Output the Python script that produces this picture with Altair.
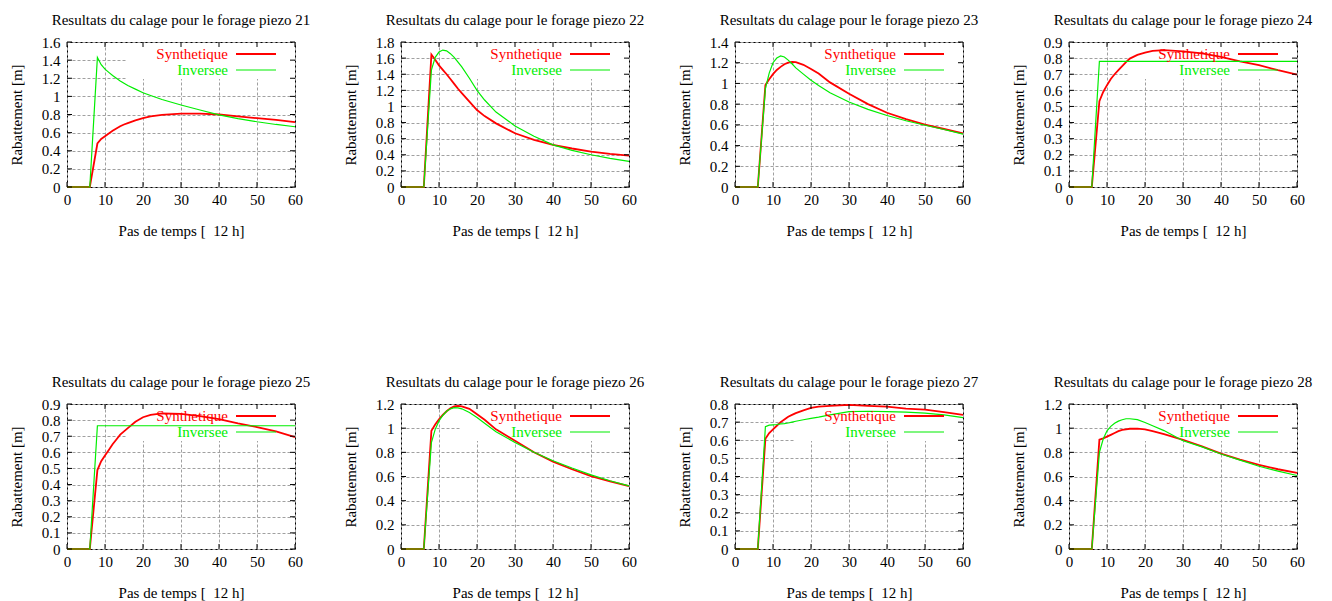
import altair as alt
import pandas as pd

# ---------------- data ----------------
STEPS = [0, 6, 8, 9, 10, 11, 12, 13, 14, 15, 16, 18, 20, 22, 25, 30, 35, 40, 45, 50, 55, 60]

PIEZOS = [21, 22, 23, 24, 25, 26, 27, 28]

SYNTH_21 = [0, 0, 0.48, 0.53, 0.56, 0.59, 0.62, 0.645, 0.67, 0.69, 0.705, 0.735, 0.76, 0.78, 0.795, 0.81, 0.81, 0.80, 0.78, 0.76, 0.74, 0.715]
INV_21 = [0, 0, 1.43, 1.35, 1.30, 1.265, 1.23, 1.20, 1.17, 1.145, 1.12, 1.08, 1.04, 1.01, 0.965, 0.905, 0.85, 0.795, 0.755, 0.72, 0.69, 0.665]

SYNTH_22 = [0, 0, 1.645, 1.58, 1.51, 1.455, 1.40, 1.34, 1.28, 1.22, 1.165, 1.06, 0.955, 0.88, 0.79, 0.667, 0.585, 0.523, 0.478, 0.44, 0.41, 0.39]
INV_22 = [0, 0, 1.45, 1.61, 1.675, 1.70, 1.69, 1.655, 1.61, 1.55, 1.49, 1.35, 1.20, 1.08, 0.93, 0.758, 0.63, 0.523, 0.455, 0.40, 0.355, 0.317]

SYNTH_23 = [0, 0, 0.985, 1.04, 1.09, 1.13, 1.16, 1.185, 1.20, 1.207, 1.205, 1.18, 1.14, 1.095, 1.01, 0.90, 0.80, 0.717, 0.655, 0.603, 0.56, 0.517]
INV_23 = [0, 0, 0.95, 1.10, 1.20, 1.245, 1.265, 1.255, 1.225, 1.19, 1.15, 1.09, 1.03, 0.98, 0.91, 0.82, 0.75, 0.69, 0.64, 0.596, 0.555, 0.51]

SYNTH_24 = [0, 0, 0.533, 0.59, 0.632, 0.67, 0.70, 0.725, 0.75, 0.775, 0.797, 0.82, 0.834, 0.845, 0.85, 0.842, 0.83, 0.807, 0.78, 0.756, 0.725, 0.698]
INV_24 = [0, 0, 0.78, 0.78, 0.78, 0.78, 0.78, 0.78, 0.78, 0.78, 0.78, 0.78, 0.78, 0.78, 0.78, 0.78, 0.78, 0.78, 0.78, 0.78, 0.78, 0.78]

SYNTH_25 = [0, 0, 0.49, 0.545, 0.58, 0.615, 0.65, 0.68, 0.71, 0.73, 0.75, 0.79, 0.818, 0.832, 0.842, 0.839, 0.825, 0.806, 0.78, 0.757, 0.73, 0.695]
INV_25 = [0, 0, 0.765, 0.765, 0.765, 0.765, 0.765, 0.765, 0.765, 0.765, 0.765, 0.765, 0.765, 0.765, 0.765, 0.765, 0.765, 0.765, 0.765, 0.765, 0.765, 0.765]

SYNTH_26 = [0, 0, 0.978, 1.03, 1.074, 1.11, 1.14, 1.165, 1.18, 1.185, 1.18, 1.16, 1.115, 1.07, 0.99, 0.896, 0.80, 0.723, 0.66, 0.603, 0.56, 0.52]
INV_26 = [0, 0, 0.88, 0.99, 1.06, 1.105, 1.14, 1.16, 1.17, 1.168, 1.16, 1.13, 1.088, 1.04, 0.97, 0.882, 0.80, 0.73, 0.67, 0.614, 0.565, 0.523]

SYNTH_27 = [0, 0, 0.608, 0.64, 0.66, 0.68, 0.70, 0.715, 0.73, 0.74, 0.75, 0.765, 0.778, 0.785, 0.79, 0.795, 0.79, 0.785, 0.775, 0.769, 0.755, 0.74]
INV_27 = [0, 0, 0.675, 0.683, 0.685, 0.687, 0.69, 0.692, 0.695, 0.70, 0.705, 0.713, 0.721, 0.728, 0.74, 0.758, 0.76, 0.758, 0.755, 0.75, 0.74, 0.725]

SYNTH_28 = [0, 0, 0.904, 0.915, 0.93, 0.945, 0.96, 0.975, 0.985, 0.99, 0.995, 0.997, 0.99, 0.975, 0.95, 0.904, 0.85, 0.79, 0.74, 0.696, 0.66, 0.63]
INV_28 = [0, 0, 0.80, 0.91, 0.978, 1.015, 1.04, 1.058, 1.07, 1.078, 1.078, 1.07, 1.047, 1.02, 0.98, 0.896, 0.845, 0.786, 0.735, 0.685, 0.645, 0.608]

X_TICKS = [0, 10, 20, 30, 40, 50, 60]
Y_TICKS_21 = [0, 0.2, 0.4, 0.6, 0.8, 1, 1.2, 1.4, 1.6]
Y_TICKS_22 = [0, 0.2, 0.4, 0.6, 0.8, 1, 1.2, 1.4, 1.6, 1.8]
Y_TICKS_23 = [0, 0.2, 0.4, 0.6, 0.8, 1, 1.2, 1.4]
Y_TICKS_24 = [0, 0.1, 0.2, 0.3, 0.4, 0.5, 0.6, 0.7, 0.8, 0.9]
Y_TICKS_25 = [0, 0.1, 0.2, 0.3, 0.4, 0.5, 0.6, 0.7, 0.8, 0.9]
Y_TICKS_26 = [0, 0.2, 0.4, 0.6, 0.8, 1, 1.2]
Y_TICKS_27 = [0, 0.1, 0.2, 0.3, 0.4, 0.5, 0.6, 0.7, 0.8]
Y_TICKS_28 = [0, 0.2, 0.4, 0.6, 0.8, 1, 1.2]

TITLE_FMT = "Resultats du calage pour le forage piezo {}"
X_TITLE = "Pas de temps [\u00a0\u00a012 h]"
Y_TITLE = "Rabattement [m]"
LEGEND = ["Synthetique", "Inversee"]

SERIES = {
    21: (SYNTH_21, INV_21, Y_TICKS_21),
    22: (SYNTH_22, INV_22, Y_TICKS_22),
    23: (SYNTH_23, INV_23, Y_TICKS_23),
    24: (SYNTH_24, INV_24, Y_TICKS_24),
    25: (SYNTH_25, INV_25, Y_TICKS_25),
    26: (SYNTH_26, INV_26, Y_TICKS_26),
    27: (SYNTH_27, INV_27, Y_TICKS_27),
    28: (SYNTH_28, INV_28, Y_TICKS_28),
}

# ---------------- style ----------------
W, H = 228, 145
FONT = "Liberation Serif, Times New Roman, Times, serif"
RED = "#ff0000"
GREEN = "#00ee00"
TICK = 5


def panel(pid, synth, inv, yticks):
    ymax = yticks[-1]
    df = pd.DataFrame({"step": STEPS, "synth": synth, "inv": inv})
    xs = alt.Scale(domain=[0, 60], nice=False, zero=False)
    ys = alt.Scale(domain=[0, ymax], nice=False, zero=False)

    x_axis = alt.Axis(values=X_TICKS, format="d", title=X_TITLE, grid=True,
                      ticks=False, tickSize=0, domain=False, labelPadding=5,
                      labelFlush=False, titleX=W / 2, titleY=43,
                      titleBaseline="middle", titleAlign="center")
    y_axis = alt.Axis(values=yticks, format=".1~f", title=Y_TITLE, grid=True,
                      ticks=False, tickSize=0, domain=False, labelPadding=7,
                      labelFlush=False, titleX=-51, titleY=H / 2,
                      titleAngle=270, titleAlign="center", titleBaseline="middle")

    one = pd.DataFrame({"k": [0]})
    mask = alt.Chart(one).mark_rect(color="white").encode(
        x=alt.value(60), x2=alt.value(227), y=alt.value(1), y2=alt.value(37))

    xt = pd.DataFrame({"t": X_TICKS})
    yt = pd.DataFrame({"t": yticks})
    xtick_b = alt.Chart(xt).mark_rule(color="black", strokeWidth=1).encode(
        x=alt.X("t:Q", scale=xs, axis=x_axis), y=alt.value(H), y2=alt.value(H - TICK))
    xtick_t = alt.Chart(xt).mark_rule(color="black", strokeWidth=1).encode(
        x=alt.X("t:Q", scale=xs, axis=x_axis), y=alt.value(0), y2=alt.value(TICK))
    ytick_l = alt.Chart(yt).mark_rule(color="black", strokeWidth=1).encode(
        y=alt.Y("t:Q", scale=ys, axis=y_axis), x=alt.value(0), x2=alt.value(TICK))
    ytick_r = alt.Chart(yt).mark_rule(color="black", strokeWidth=1).encode(
        y=alt.Y("t:Q", scale=ys, axis=y_axis), x=alt.value(W - TICK), x2=alt.value(W))

    red = alt.Chart(df).mark_line(color=RED, strokeWidth=1.8).encode(
        x=alt.X("step:Q", scale=xs, axis=x_axis),
        y=alt.Y("synth:Q", scale=ys, axis=y_axis))
    green = alt.Chart(df).mark_line(color=GREEN, strokeWidth=1.2).encode(
        x=alt.X("step:Q", scale=xs, axis=x_axis),
        y=alt.Y("inv:Q", scale=ys, axis=y_axis))

    lab_r = alt.Chart(one).mark_text(text=LEGEND[0], align="right", baseline="middle",
                                     font=FONT, fontSize=15, color=RED).encode(
        x=alt.value(161), y=alt.value(12))
    lab_g = alt.Chart(one).mark_text(text=LEGEND[1], align="right", baseline="middle",
                                     font=FONT, fontSize=15, color=GREEN).encode(
        x=alt.value(161), y=alt.value(28))
    key_r = alt.Chart(one).mark_rule(color=RED, strokeWidth=1.8).encode(
        x=alt.value(169), x2=alt.value(209), y=alt.value(12))
    key_g = alt.Chart(one).mark_rule(color=GREEN, strokeWidth=1.2).encode(
        x=alt.value(169), x2=alt.value(209), y=alt.value(28))

    return alt.layer(mask, red, green, xtick_b, xtick_t, ytick_l, ytick_r,
                     lab_r, lab_g, key_r, key_g).properties(
        width=W, height=H,
        title=alt.TitleParams(TITLE_FMT.format(pid), font=FONT, fontSize=15,
                              fontWeight="normal", color="black", anchor="middle",
                              offset=7))


panels = [panel(p, *SERIES[p]) for p in PIEZOS]

chart = alt.concat(*panels, columns=4, spacing={"row": 217, "column": 106},
                   bounds="flush").properties(
    padding={"left": 0, "top": 4, "right": 0, "bottom": 0}
).configure_view(
    stroke="black", strokeWidth=1
).configure_axis(
    labelFont=FONT, labelFontSize=15, labelColor="black",
    titleFont=FONT, titleFontSize=15, titleFontWeight="normal", titleColor="black",
    gridColor="#a0a0a0", gridDash=[3, 2], gridWidth=1
).configure_title(
    font=FONT, fontSize=15, fontWeight="normal", color="black"
)

chart.save("out.html", embed_options={"renderer": "svg", "actions": False})
